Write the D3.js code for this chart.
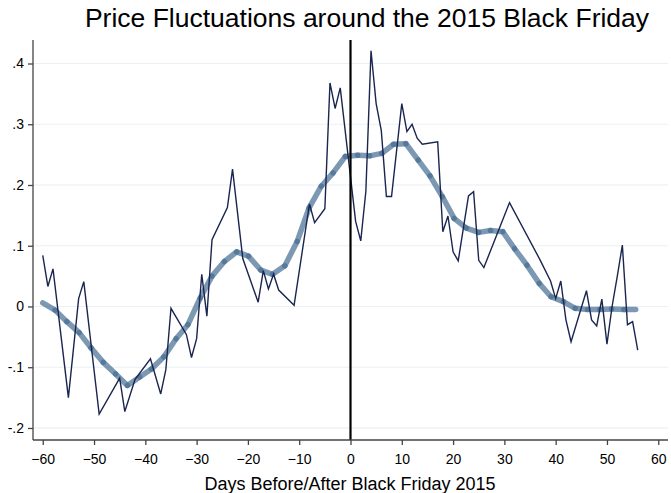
<!DOCTYPE html>
<html>
<head>
<meta charset="utf-8">
<script src="https://cdn.jsdelivr.net/npm/d3@7"></script>
<style>
  html, body { margin: 0; padding: 0; background: #fff; }
  svg { display: block; font-family: "Liberation Sans", Arial, sans-serif; }
</style>
</head>
<body>
<svg id="chart" width="671" height="493"></svg>
<script>
// ---- Data ----
const rawDays = [-60,-59,-58,-55,-53,-52,-49,-45,-44,-42,-39,-37,-36,-35,-32,-31,-30,-29,-28,-27,-24,-23,-21,-18,-17,-16,-15,-14,-11,-8,-7,-5,-4,-3,-2,1,2,3,4,5,6,7,8,10,11,12,13,14,17,18,19,20,21,23,24,25,26,31,37,39,40,41,42,43,46,47,48,49,50,51,52,53,54,55,56];
const rawValues = [0.084,0.033,0.062,-0.150,0.013,0.041,-0.177,-0.118,-0.173,-0.120,-0.086,-0.144,-0.104,-0.003,-0.046,-0.084,-0.053,0.053,-0.016,0.110,0.163,0.226,0.079,0.007,0.059,0.029,0.053,0.027,0.002,0.169,0.138,0.161,0.368,0.326,0.360,0.140,0.108,0.190,0.421,0.334,0.290,0.181,0.181,0.334,0.288,0.300,0.277,0.267,0.271,0.123,0.149,0.090,0.075,0.182,0.189,0.076,0.064,0.171,0.076,0.042,0.013,0.042,-0.022,-0.058,0.026,-0.022,-0.032,0.012,-0.062,0.000,0.049,0.101,-0.030,-0.025,-0.072];

const smoothDays = [-60,-57.6,-55.3,-52.9,-50.6,-48.2,-45.8,-43.5,-41.1,-38.8,-36.4,-34.0,-31.7,-29.3,-27.0,-24.6,-22.2,-19.9,-17.5,-15.2,-12.8,-10.4,-8.1,-5.7,-3.4,-1.0,1.4,3.7,6.1,8.4,10.8,13.2,15.5,17.9,20.2,22.6,25.0,27.3,29.7,32.0,34.4,36.8,39.1,41.5,43.8,46.2,48.6,50.9,53.3,55.6];
const smoothValues = [0.006,-0.006,-0.025,-0.043,-0.068,-0.092,-0.111,-0.130,-0.116,-0.103,-0.083,-0.053,-0.030,0.014,0.050,0.074,0.090,0.083,0.060,0.053,0.067,0.107,0.162,0.198,0.220,0.247,0.249,0.248,0.252,0.267,0.268,0.241,0.215,0.181,0.145,0.129,0.122,0.125,0.123,0.095,0.068,0.038,0.016,0.008,-0.003,-0.005,-0.005,-0.004,-0.005,-0.005];

const xTicks = [-60,-50,-40,-30,-20,-10,0,10,20,30,40,50,60];
const yTicks = [-0.2,-0.1,0,0.1,0.2,0.3,0.4];
const yTickLabels = ["-.2","-.1","0",".1",".2",".3",".4"];
const eventDay = 0;
const titleText = "Price Fluctuations around the 2015 Black Friday";
const xTitleText = "Days Before/After Black Friday 2015";

// ---- Layout ----
const svg = d3.select("#chart");
const pL = 33, pR = 668, pT = 40, pB = 440;

const x = d3.scaleLinear().domain([-61.9, 61.9]).range([pL, pR]);
const y = d3.scaleLinear().domain([-0.2198, 0.4387]).range([pB, pT]);

// gridlines
svg.append("g").selectAll("line").data(yTicks).join("line")
  .attr("x1", pL).attr("x2", pR)
  .attr("y1", d => y(d)).attr("y2", d => y(d))
  .attr("stroke", "#eaf0f3").attr("stroke-width", 1.2);

// smoothed line drawn as separate translucent segments (darker joints)
const segs = d3.pairs(smoothDays.map((d, i) => [d, smoothValues[i]]));
svg.append("g").selectAll("line").data(segs).join("line")
  .attr("x1", d => x(d[0][0])).attr("y1", d => y(d[0][1]))
  .attr("x2", d => x(d[1][0])).attr("y2", d => y(d[1][1]))
  .attr("stroke", "#456c91").attr("stroke-opacity", 0.7)
  .attr("stroke-width", 5.5).attr("stroke-linecap", "round");

// raw line
const line = d3.line().x(d => x(d[0])).y(d => y(d[1]));
svg.append("path")
  .datum(rawDays.map((d, i) => [d, rawValues[i]]))
  .attr("d", line)
  .attr("fill", "none").attr("stroke", "#1a2550").attr("stroke-width", 1.4)
  .attr("stroke-linejoin", "miter");

// event line
svg.append("line")
  .attr("x1", x(eventDay)).attr("x2", x(eventDay))
  .attr("y1", pT).attr("y2", pB)
  .attr("stroke", "#000").attr("stroke-width", 2.2);

// axes
const yAxis = d3.axisLeft(y).tickValues(yTicks).tickFormat((d, i) => yTickLabels[i]).tickSize(5).tickPadding(4);
const gy = svg.append("g").attr("transform", `translate(${pL},0)`).call(yAxis);
gy.select(".domain").attr("d", `M0,${pT}V${pB}`).attr("stroke", "#444").attr("stroke-width", 1.3);
gy.selectAll(".tick line").attr("stroke", "#444").attr("stroke-width", 1.3);
gy.selectAll(".tick text").attr("font-size", 14).attr("fill", "#000").attr("font-family", "Liberation Sans, Arial, sans-serif");

const xAxis = d3.axisBottom(x).tickValues(xTicks).tickFormat(d3.format("d")).tickSize(5).tickPadding(9);
const gx = svg.append("g").attr("transform", `translate(0,${pB})`).call(xAxis);
gx.select(".domain").attr("d", `M${pL},0H${pR}`).attr("stroke", "#444").attr("stroke-width", 1.3);
gx.selectAll(".tick line").attr("stroke", "#444").attr("stroke-width", 1.3);
gx.selectAll(".tick text").attr("font-size", 14).attr("fill", "#000").attr("font-family", "Liberation Sans, Arial, sans-serif");

// titles
svg.append("text").attr("x", 367).attr("y", 27).attr("text-anchor", "middle")
  .attr("font-size", 26.5).attr("fill", "#000").text(titleText);
svg.append("text").attr("x", 350).attr("y", 490).attr("text-anchor", "middle")
  .attr("font-size", 18).attr("fill", "#000").text(xTitleText);
</script>
</body>
</html>
